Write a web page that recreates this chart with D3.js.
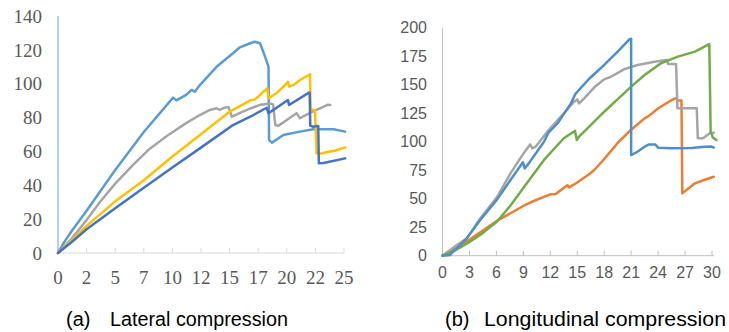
<!DOCTYPE html>
<html>
<head>
<meta charset="utf-8">
<script src="https://cdn.jsdelivr.net/npm/d3@7"></script>
<style>
  body { margin: 0; background: #fff; }
  svg { display: block; }
</style>
</head>
<body>
<svg id="chart" width="729" height="332"></svg>
<script>
// (a) lateral compression : [displacement, load]
const latLightBlue = [[0,0],[0.5,6],[1.2,13],[2.5,25],[5,49],[7.5,71.5],[10.06,91.8],[10.35,90.2],[11.2,93.4],[11.67,96.3],[11.96,95.3],[12.4,99.2],[13.86,110],[15.3,118],[15.9,121.5],[16.8,123.9],[17.2,124.8],[17.66,123.9],[18.1,116],[18.4,110],[18.45,66.7],[18.7,65.2],[19.7,69.7],[21.15,71.7],[22.3,73.1],[24.1,73.1],[25.1,71.7]];
const latGray = [[0,0],[1.2,8.5],[2.5,19.5],[3.65,30],[5,41],[6.56,52],[8,61.5],[9.48,69],[11.2,76.7],[12.4,81.5],[13.27,84.5],[13.86,85.5],[14.15,84.5],[14.4,85.5],[14.9,86.3],[15.2,80.5],[16.5,84.5],[17.6,87.4],[18.5,88.3],[18.8,87.8],[19.0,75.6],[19.25,75.1],[20.0,78.6],[20.85,82.6],[21.15,79.6],[21.4,80.6],[22.3,83.6],[22.9,85.5],[23.6,87.6],[23.8,87.4]];
const latYellow = [[0,0],[1.2,7.5],[2.5,16],[5,30.5],[7.5,43],[10,57],[12.4,69.7],[15.0,83.5],[15.3,84.5],[16.8,90.2],[17.2,90.6],[18.3,97.3],[18.4,91.4],[19.1,94.4],[20.0,100.2],[20.1,101.2],[20.2,98.3],[20.6,99.3],[21.15,102.2],[22.03,105.6],[22.08,84.5],[22.47,84.5],[22.6,58.9],[22.9,58.6],[23.8,60],[24.2,60.4],[25.1,62.4]];
const latDarkBlue = [[0,0],[1.2,6.5],[2.5,14],[5,26.5],[7.5,38.5],[10,50.5],[12.4,61.8],[15.3,75.6],[16.8,80.5],[18.24,85.8],[18.4,82.5],[20.1,90.4],[20.2,87.4],[21.9,94.6],[22.0,94.6],[22.05,75.2],[22.3,74.6],[22.75,75],[22.8,53],[23.2,53.2],[25.1,55.9]];

// (b) longitudinal compression : [displacement, load]
const lonBlue = [[0,0],[0.86,0.6],[1.0,2.1],[2.72,15.5],[4.2,31.3],[6.04,49],[7.57,66.4],[8.95,82],[9.15,76.6],[9.6,81],[11.3,100],[11.8,108],[12.8,116],[14.3,133.6],[14.8,142],[16.3,155],[18.0,167.3],[19.5,179],[20.8,189.8],[21.0,190.3],[21.0,88.3],[21.7,91.2],[22.5,95.6],[23.0,97.6],[23.7,97.6],[24.0,94.8],[25.5,94.2],[27.7,94.4],[29.2,95.6],[29.9,95.8],[30.2,94.8]];
const lonOrange = [[0,0],[1.5,6.8],[3.06,14.4],[6.04,30.5],[9.2,44.5],[10.55,49.3],[12.0,53.8],[12.6,54.1],[13.9,61.8],[14.1,59.9],[15.0,64.2],[16.3,71.5],[16.9,75.2],[18.0,84.8],[19.1,95],[19.5,99],[21.0,110.5],[22.5,120.5],[22.9,122.2],[24.0,129.2],[24.7,132.6],[25.5,136.5],[26.0,138.2],[26.2,136.2],[26.6,136.2],[26.7,54.7],[27.3,58.6],[28.1,63.5],[29.2,66.6],[30.2,69.3]];
const lonGray = [[0,0],[1.6,9.4],[2.72,15.2],[4.2,32.7],[6.04,51],[7.57,72.2],[8.87,88],[9.75,97.6],[10.0,94.2],[10.36,95.6],[11.67,108.8],[13.16,121.9],[14.65,135.1],[15.0,137.1],[15.2,133.6],[15.77,138],[16.9,147.7],[18.0,154.7],[18.75,157],[20.2,163.5],[21.7,167.3],[23.6,170.2],[25.0,171.6],[25.1,168.2],[26.0,168.2],[26.15,129.3],[26.95,129.3],[28.3,129.3],[28.42,103],[29.0,103],[29.75,107.4],[30.2,107.9]];
const lonGreen = [[0,0],[1.5,5],[3.06,12.3],[4.5,20],[6.08,30],[7.57,44],[9.06,60],[11.3,84],[13.5,103],[14.75,109.5],[14.95,101.5],[15.2,104.4],[16.5,114.6],[18.0,126.3],[20.2,142.4],[21.0,148.3],[22.5,158.5],[24.3,168.7],[26.2,174.6],[28.1,179],[29.7,185.6],[29.85,108.8],[30.1,103.6],[30.5,101.5]];

const latSeries = [
  { data: latLightBlue, color: "#5B9BD5" },
  { data: latGray, color: "#A5A5A5" },
  { data: latYellow, color: "#FFC000" },
  { data: latDarkBlue, color: "#4472C4" }
];
const lonSeries = [
  { data: lonOrange, color: "#ED7D31" },
  { data: lonGray, color: "#A5A5A5" },
  { data: lonGreen, color: "#70AD47" },
  { data: lonBlue, color: "#4E8FCB" }
];

const latXTicks = d3.range(0, 25.01, 2.5);
const latYTicks = d3.range(0, 141, 20);
const lonXTicks = d3.range(0, 31, 3);
const lonYTicks = d3.range(0, 201, 25);

const svg = d3.select("#chart");

// ---- (a) 横向圧縮
const xA = d3.scaleLinear().domain([0, 25]).range([58, 344]);
const yA = d3.scaleLinear().domain([0, 140]).range([253, 16]);

const gA = svg.append("g");
gA.append("line")
  .attr("x1", xA(0)).attr("x2", xA(25))
  .attr("y1", yA(0)).attr("y2", yA(0))
  .attr("stroke", "#d9d9d9").attr("stroke-width", 1);
gA.selectAll(".tickA").data(latXTicks).enter().append("line")
  .attr("x1", (d) => xA(d)).attr("x2", (d) => xA(d))
  .attr("y1", yA(0)).attr("y2", yA(0) - 5)
  .attr("stroke", "#d9d9d9");
gA.append("line")
  .attr("x1", xA(0)).attr("x2", xA(0))
  .attr("y1", yA(140)).attr("y2", yA(0))
  .attr("stroke", "#9DC3E6").attr("stroke-width", 1.5);
gA.selectAll(".ylabA").data(latYTicks).enter().append("text")
  .attr("x", 42).attr("y", (d) => yA(d))
  .attr("dy", "0.35em")
  .attr("text-anchor", "end")
  .attr("font-family", "'Liberation Serif', 'Times New Roman', serif")
  .attr("font-size", 19).attr("fill", "#595959")
  .text((d) => d);
gA.selectAll(".xlabA").data(latXTicks).enter().append("text")
  .attr("x", (d) => xA(d)).attr("y", 284)
  .attr("text-anchor", "middle")
  .attr("font-family", "'Liberation Serif', 'Times New Roman', serif")
  .attr("font-size", 19).attr("fill", "#595959")
  .text((d) => Math.floor(d));

const lineA = d3.line().x((d) => xA(d[0])).y((d) => yA(d[1])).curve(d3.curveMonotoneX);
gA.selectAll(".seriesA").data(latSeries).enter().append("path")
  .attr("d", (d) => d3.line().x((p) => xA(p[0])).y((p) => yA(p[1]))(d.data))
  .attr("fill", "none")
  .attr("stroke", (d) => d.color)
  .attr("stroke-width", 2.5)
  .attr("stroke-linejoin", "round")
  .attr("stroke-linecap", "round");

// ---- (b) 縦向圧縮
const xB = d3.scaleLinear().domain([0, 30]).range([442.5, 712]);
const yB = d3.scaleLinear().domain([0, 200]).range([255.7, 27.7]);

const gB = svg.append("g");
gB.append("line")
  .attr("x1", xB(0)).attr("x2", xB(30) + 2)
  .attr("y1", yB(0)).attr("y2", yB(0))
  .attr("stroke", "#bfbfbf").attr("stroke-width", 1);
gB.selectAll(".tickB").data(lonXTicks).enter().append("line")
  .attr("x1", (d) => xB(d)).attr("x2", (d) => xB(d))
  .attr("y1", yB(0)).attr("y2", yB(0) - 5)
  .attr("stroke", "#bfbfbf");
gB.append("line")
  .attr("x1", xB(0)).attr("x2", xB(0))
  .attr("y1", yB(200)).attr("y2", yB(0))
  .attr("stroke", "#bfbfbf").attr("stroke-width", 1);
gB.selectAll(".ylabB").data(lonYTicks).enter().append("text")
  .attr("x", 427).attr("y", (d) => yB(d))
  .attr("dy", "0.35em")
  .attr("text-anchor", "end")
  .attr("font-family", "'Liberation Sans', Arial, sans-serif")
  .attr("font-size", 16).attr("fill", "#595959")
  .text((d) => d);
gB.selectAll(".xlabB").data(lonXTicks).enter().append("text")
  .attr("x", (d) => xB(d)).attr("y", 278)
  .attr("text-anchor", "middle")
  .attr("font-family", "'Liberation Sans', Arial, sans-serif")
  .attr("font-size", 16).attr("fill", "#595959")
  .text((d) => d);

const lineB = d3.line().x((d) => xB(d[0])).y((d) => yB(d[1]));
gB.selectAll(".seriesB").data(lonSeries).enter().append("path")
  .attr("d", (d) => lineB(d.data))
  .attr("fill", "none")
  .attr("stroke", (d) => d.color)
  .attr("stroke-width", 2.5)
  .attr("stroke-linejoin", "round")
  .attr("stroke-linecap", "round");

// ---- captions
const caps = [
  { tag: "(a)", text: "Lateral compression", x1: 66, x2: 110, len: 178 },
  { tag: "(b)", text: "Longitudinal compression", x1: 445, x2: 484, len: 242 }
];
caps.forEach((c) => {
  svg.append("text").attr("x", c.x1).attr("y", 326)
    .attr("font-family", "'Liberation Sans', Arial, sans-serif")
    .attr("font-size", 20).attr("fill", "#000")
    .text(c.tag);
  svg.append("text").attr("x", c.x2).attr("y", 326)
    .attr("font-family", "'Liberation Sans', Arial, sans-serif")
    .attr("font-size", 20).attr("fill", "#000")
    .attr("textLength", c.len).attr("lengthAdjust", "spacingAndGlyphs")
    .text(c.text);
});
</script>
</body>
</html>
